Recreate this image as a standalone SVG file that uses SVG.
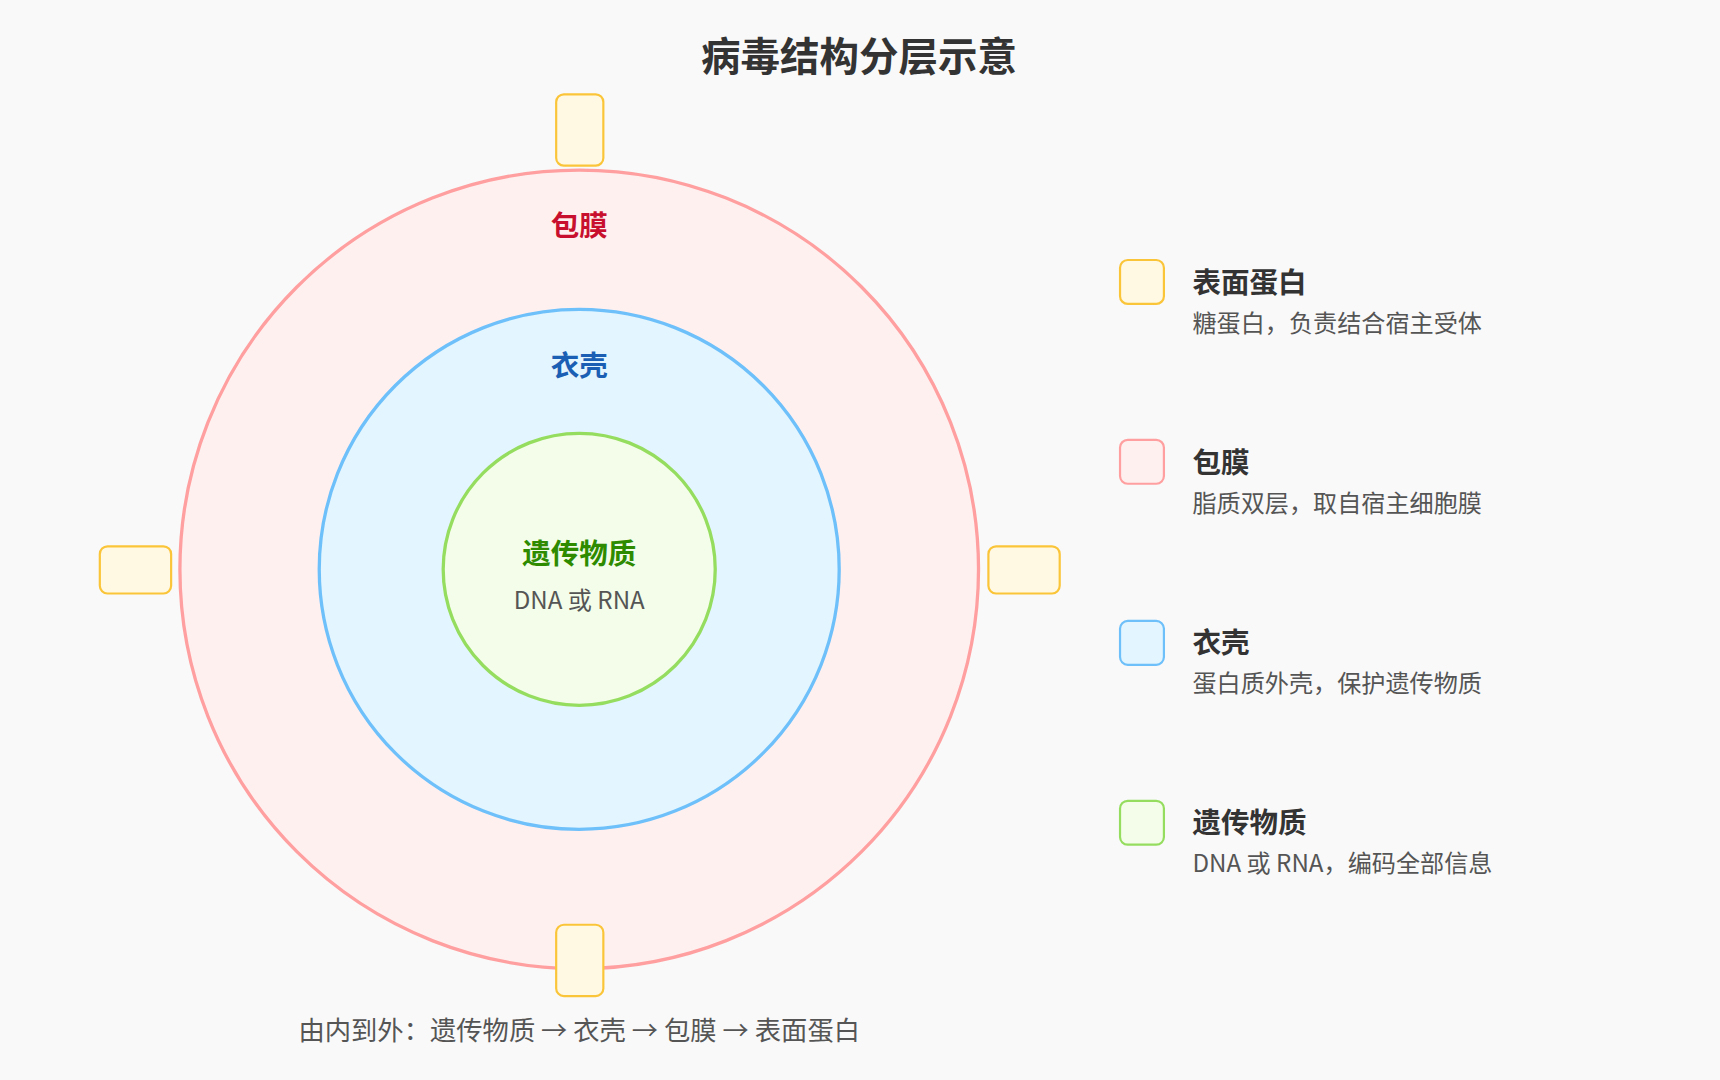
<svg xmlns="http://www.w3.org/2000/svg" width="1720" height="1080" viewBox="0 0 1720 1080">
<style>
text{font-family:"Noto Sans CJK SC","Noto Sans",sans-serif}
.t{font-weight:bold;fill:#333}
.d{fill:#555;font-size:22px}
.prot{fill:#fff8e3;stroke:#fbc53a;stroke-width:2}
.lt{font-size:26px;font-weight:bold;fill:#333}
</style>
<rect width="1720" height="1080" fill="#f9f9f9"/>
<g transform="scale(1.097)">
<text x="783" y="65" text-anchor="middle" class="t" font-size="36">病毒结构分层示意</text>
<g id="envelope"><circle cx="528" cy="519" r="364" fill="#fff0f0" stroke="#ff9f9f" stroke-width="3"/>
<text x="528" y="215" text-anchor="middle" font-size="26" font-weight="bold" fill="#c8102e">包膜</text></g>
<g id="capsid"><circle cx="528" cy="519" r="237" fill="#e3f5fe" stroke="#6ec0fa" stroke-width="3"/>
<text x="528" y="343" text-anchor="middle" font-size="26" font-weight="bold" fill="#1a5fb4">衣壳</text></g>
<g id="genome"><circle cx="528" cy="519" r="124" fill="#f4fde9" stroke="#95dd5f" stroke-width="3"/>
<text x="528" y="514" text-anchor="middle" font-size="26" font-weight="bold" fill="#2e8b00">遗传物质</text>
<text x="528" y="555" text-anchor="middle" class="d">DNA 或 RNA</text></g>
<g id="proteins">
<rect class="prot" x="507" y="86" width="43" height="65" rx="7"/>
<rect class="prot" x="507" y="843" width="43" height="65" rx="7"/>
<rect class="prot" x="91" y="498" width="65" height="43" rx="7"/>
<rect class="prot" x="901" y="498" width="65" height="43" rx="7"/>
</g>
<g id="legend">
<rect x="1021" y="237" width="40" height="40" rx="7" class="prot"/>
<text x="1087" y="267" class="lt">表面蛋白</text><text x="1087" y="303" class="d">糖蛋白，负责结合宿主受体</text>
<rect x="1021" y="401" width="40" height="40" rx="7" fill="#fff0f0" stroke="#ff9f9f" stroke-width="2"/>
<text x="1087" y="431" class="lt">包膜</text><text x="1087" y="467" class="d">脂质双层，取自宿主细胞膜</text>
<rect x="1021" y="566" width="40" height="40" rx="7" fill="#e3f5fe" stroke="#6ec0fa" stroke-width="2"/>
<text x="1087" y="595" class="lt">衣壳</text><text x="1087" y="631" class="d">蛋白质外壳，保护遗传物质</text>
<rect x="1021" y="730" width="40" height="40" rx="7" fill="#f4fde9" stroke="#95dd5f" stroke-width="2"/>
<text x="1087" y="759" class="lt">遗传物质</text><text x="1087" y="795" class="d">DNA 或 RNA，编码全部信息</text>
</g>
<text x="528" y="948" text-anchor="middle" font-size="24" fill="#555">由内到外：遗传物质 → 衣壳 → 包膜 → 表面蛋白</text>
</g>
</svg>
